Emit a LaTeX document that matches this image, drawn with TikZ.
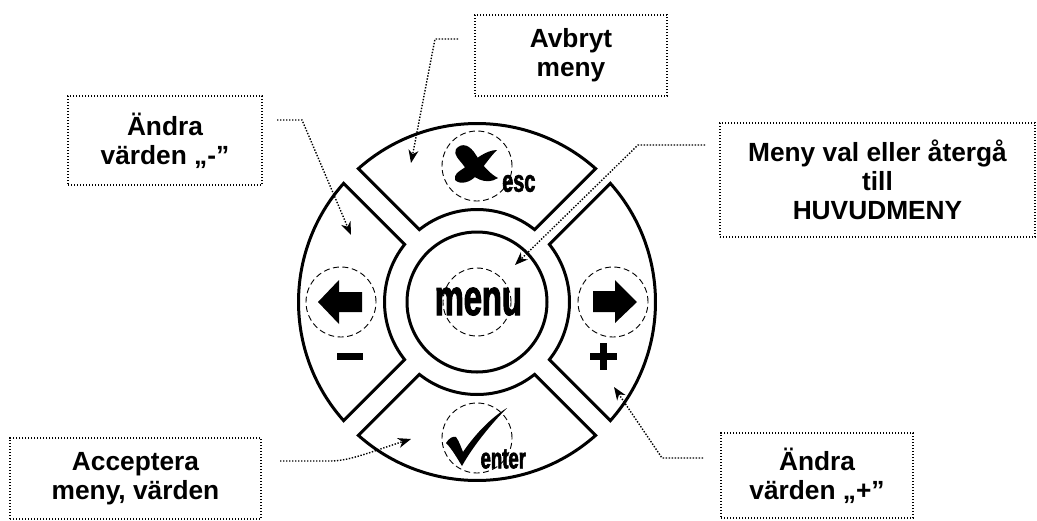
\documentclass[tikz,border=0pt]{standalone}
\usepackage{fontspec}
\setmainfont{Liberation Sans}
\newfontfamily\condfont{Liberation Sans}[UprightFont=* Bold, FakeStretch=0.64, FakeBold=2]
\usetikzlibrary{arrows.meta}
\begin{document}
\begin{tikzpicture}[x=1pt, y=-1pt,
  btn/.style={draw, line width=3pt, line join=miter, fill=white},
  hint/.style={draw, circle, dash pattern=on 6pt off 3.5pt, line width=0.9pt,
               inner sep=0pt, minimum size=70pt},
  note/.style={draw, line width=1.4pt, dash pattern=on 1.4pt off 1.6pt,
               align=center, inner sep=0pt,
               font=\fontsize{26.3}{29}\selectfont\bfseries},
  link/.style={line width=1.4pt, dash pattern=on 1.4pt off 1.6pt,
               -{Stealth[length=13pt, width=10pt, inset=4pt]}},
  key/.style={font=\condfont\fontsize{#1}{#1}\selectfont, inner sep=0pt, anchor=base},
]
\useasboundingbox (0,0) rectangle (1037,520);

% keypad
\begin{scope}[shift={(477,302)}]
  \foreach \a in {0,90,180,270}
    \draw[btn] (\a-41.63:178.5) arc[start angle=\a-41.63, end angle=\a+41.63, radius=178.5]
      -- (\a+38.48:92.5) arc[start angle=\a+38.48, end angle=\a-38.48, radius=92.5] -- cycle;
  \draw[btn] (0,0) circle[radius=70];
\end{scope}

\node[hint] (escring)   at (477,166) {};
\node[hint] (leftring)  at (341,302) {};
\node[hint] (rightring) at (613,302) {};
\node[hint] (enterring) at (477,438) {};
\node[hint, minimum size=68pt] (menuring) at (477,302) {};

% esc
\fill (456,149) .. controls (462,142) and (470,145) .. (476,155)
  .. controls (482,165) and (490,174) .. (498,178)
  .. controls (486,186) and (472,178) .. (464,166)
  .. controls (459,159) and (453,155) .. (456,149) -- cycle;
\fill (497,150) .. controls (486,150) and (474,160) .. (464,168)
  .. controls (458,172) and (454,174) .. (455,180)
  .. controls (460,185) and (470,183) .. (477,175)
  .. controls (484,166) and (490,157) .. (497,150) -- cycle;
\node[key=31] (esc) at (518.8,191.7) {esc};

% enter
\fill (446,443) .. controls (449,438) and (453,436) .. (456,437)
  .. controls (459,441) and (461,447) .. (463,452)
  .. controls (476,433) and (492,417) .. (507,408)
  .. controls (492,423) and (473,446) .. (462,466)
  .. controls (457,458) and (452,449) .. (446,443) -- cycle;
\node[key=29] (enter) at (503.3,468.3) {enter};

\node[key=51] (menu) at (478.3,315) {menu};

% left / right
\fill (318,302) -- (339,280) -- (339,292) -- (362,292) -- (362,312)
  -- (339,312) -- (339,324) -- cycle;
\fill (637,302) -- (615,280) -- (615,291) -- (593,291) -- (593,312)
  -- (615,312) -- (615,323) -- cycle;
\fill (337,353) rectangle (363,360);
\fill (590,352.5) rectangle (617,360);
\fill (599.5,343) rectangle (606.5,369.5);

% notes
\node[note, minimum width=192pt, minimum height=81pt] (avbryt) at (571,55.5) {Avbryt\\meny};
\node[note, minimum width=194pt, minimum height=89pt] (minus) at (165,140.5) {Ändra\\värden „-”};
\node[note, minimum width=315pt, minimum height=114pt] (menyval) at (877.5,180)
  {Meny val eller återgå\\till\\HUVUDMENY};
\node[note, minimum width=251pt, minimum height=81pt] (acceptera) at (135.5,478.5)
  {Acceptera\\meny, värden};
\node[note, minimum width=192pt, minimum height=85pt] (plus) at (817,475.5) {Ändra\\värden „+”};

% links
\coordinate (avbryt-a) at (458,39);  \coordinate (avbryt-b) at (435,39);
\coordinate (esc-tip) at (411,163);
\coordinate (minus-a) at (277,120);  \coordinate (minus-b) at (302,120);
\coordinate (left-tip) at (351,235);
\coordinate (menyval-a) at (705,145); \coordinate (menyval-b) at (638,145);
\coordinate (menu-tip) at (515,265);
\coordinate (acceptera-a) at (280,461); \coordinate (acceptera-b) at (330,461);
\coordinate (enter-tip) at (411,439);
\coordinate (plus-a) at (703,458);   \coordinate (plus-b) at (662,458);
\coordinate (right-tip) at (614,387);

\draw[link] (avbryt-a) -- (avbryt-b) -- (esc-tip);
\draw[link] (minus-a) -- (minus-b) -- (left-tip);
\draw[link] (menyval-a) -- (menyval-b) -- (menu-tip);
\draw[link] (acceptera-a) -- (acceptera-b) .. controls (350,461) and (370,452) .. (enter-tip);
\draw[link] (plus-a) -- (plus-b) -- (right-tip);
\end{tikzpicture}
\end{document}
